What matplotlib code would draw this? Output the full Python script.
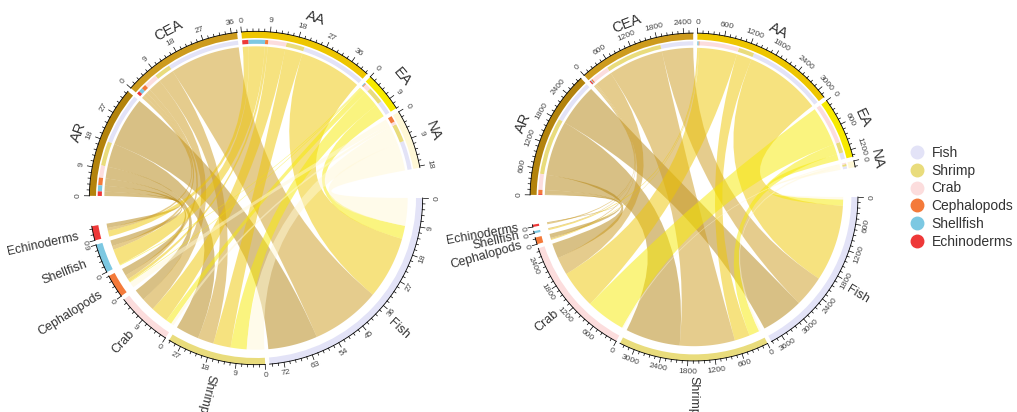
import numpy as np
import matplotlib.pyplot as plt
from matplotlib.path import Path
from matplotlib.patches import PathPatch, Wedge
from matplotlib.lines import Line2D

plt.rcParams['font.family'] = ['Liberation Sans', 'DejaVu Sans']

regions = ["AR", "CEA", "AA", "EA", "NA"]
species = ["Fish", "Shrimp", "Crab", "Cephalopods", "Shellfish", "Echinoderms"]

region_colors = ["#B3830C", "#CD9B1D", "#EEC600", "#F7EA00", "#FFF8D6"]
species_colors = ["#E3E3F7", "#E9DC7C", "#FCDDDD", "#F47A3A", "#7CC8E2", "#EE3838"]

# rows follow regions, columns follow species
left_flows = [
    [17.0, 8.0, 4.0, 2.5, 2.0, 1.5],
    [24.0, 5.5, 4.5, 1.5, 1.3, 1.0],
    [21.5, 6.0, 6.0, 1.0, 5.5, 2.0],
    [4.5, 5.5, 2.0, 0.3, 0.3, 0.0],
    [9.5, 6.0, 1.0, 2.0, 0.0, 0.0],
]
right_flows = [
    [1030, 1330, 370, 100, 0, 20],
    [760, 1340, 430, 30, 20, 30],
    [1860, 370, 920, 20, 30, 0],
    [150, 250, 960, 0, 0, 0],
    [60, 50, 30, 0, 0, 0],
]
left_step = 9
right_step = 600

BIG_GAP = 10.5
SMALL_GAP = 1.5
R_OUT, R_IN = 1.0, 0.96          # sector track
R_PROP_OUT, R_PROP_IN = 0.95, 0.925  # target proportion bars
R_LINK = 0.91
TXT = "#333333"


def arc(r, a, b, n=60):
    t = np.radians(-np.linspace(a, b, n))
    return np.column_stack([r * np.cos(t), r * np.sin(t)])


def ribbon(a1, a2, b1, b2):
    A = arc(R_LINK, a1, a2)
    B = arc(R_LINK, b1, b2)
    verts = list(A) + [(0, 0), B[0]] + list(B[1:]) + [(0, 0), A[0], A[0]]
    codes = ([Path.MOVETO] + [Path.LINETO] * (len(A) - 1) + [Path.CURVE3] * 2
             + [Path.LINETO] * (len(B) - 1) + [Path.CURVE3] * 2 + [Path.CLOSEPOLY])
    return Path(verts, codes)


def tangent_rot(cw):
    rot = (-cw - 90 + 180) % 360 - 180
    if rot < -90 or rot > 90:
        rot = (rot + 360) % 360 - 180
    return rot


def sector_axis(ax, start, length, k, step):
    pts = arc(R_OUT, start, start + length * k)
    ax.plot(pts[:, 0], pts[:, 1], color="black", lw=0.6)
    minor = step / 5
    for m in range(int(length / minor + 1e-6) + 1):
        v = m * minor
        cw = start + v * k
        t = np.radians(-cw)
        major = m % 5 == 0
        dl = 0.03 if major else 0.015
        ax.plot([R_OUT * np.cos(t), (R_OUT + dl) * np.cos(t)],
                [R_OUT * np.sin(t), (R_OUT + dl) * np.sin(t)],
                color="black", lw=0.5)
        if major:
            rl = 1.065
            ax.text(rl * np.cos(t), rl * np.sin(t), f"{int(round(v))}",
                    fontsize=6, color="#444444", ha="center", va="center",
                    rotation=tangent_rot(cw), rotation_mode="anchor")


def draw_chord(ax, flows, step):
    flows = np.array(flows, dtype=float)
    n_r, n_s = flows.shape
    total = flows.sum()
    k = (360 - 2 * BIG_GAP - (n_r + n_s - 2) * SMALL_GAP) / (2 * total)
    row_tot = flows.sum(axis=1)
    col_tot = flows.sum(axis=0)

    pos = 0.0
    sp_start = []
    for j in range(n_s):
        sp_start.append(pos)
        pos += col_tot[j] * k + SMALL_GAP
    pos += BIG_GAP - SMALL_GAP
    rg_start = []
    for i in range(n_r):
        rg_start.append(pos)
        pos += row_tot[i] * k + SMALL_GAP

    # link end positions on both sides
    rg_pos = {}
    for i in range(n_r):
        cur = rg_start[i]
        for j in reversed(range(n_s)):
            w = flows[i, j] * k
            rg_pos[i, j] = (cur, cur + w)
            cur += w
    sp_pos = {}
    for j in range(n_s):
        cur = sp_start[j]
        for i in reversed(range(n_r)):
            w = flows[i, j] * k
            sp_pos[i, j] = (cur, cur + w)
            cur += w

    for i in range(n_r):
        for j in range(n_s):
            if flows[i, j] <= 0:
                continue
            a1, a2 = rg_pos[i, j]
            b1, b2 = sp_pos[i, j]
            ax.add_patch(PathPatch(ribbon(a1, a2, b1, b2), fc=region_colors[i],
                                   ec="none", alpha=0.5, zorder=1))
            ax.add_patch(Wedge((0, 0), R_PROP_OUT, -a2, -a1,
                               width=R_PROP_OUT - R_PROP_IN,
                               fc=species_colors[j], ec="none", zorder=2))

    # region sectors
    for i in range(n_r):
        s, e = rg_start[i], rg_start[i] + row_tot[i] * k
        ax.add_patch(Wedge((0, 0), R_OUT, -e, -s, width=R_OUT - R_IN,
                           fc=region_colors[i], ec="none", zorder=2))
        sector_axis(ax, s, row_tot[i], k, step)
        mid = np.radians(-(s + e) / 2)
        ax.text(1.135 * np.cos(mid), 1.135 * np.sin(mid), regions[i],
                fontsize=10.5, color=TXT, ha="center", va="center",
                rotation=tangent_rot((s + e) / 2), rotation_mode="anchor")

    # species sectors
    for j in range(n_s):
        s, e = sp_start[j], sp_start[j] + col_tot[j] * k
        ax.add_patch(Wedge((0, 0), R_OUT, -e, -s, width=R_OUT - R_IN,
                           fc=species_colors[j], ec="none", zorder=2))
        sector_axis(ax, s, col_tot[j], k, step)
        th = -(s + e) / 2
        t = np.radians(th)
        if np.cos(t) >= -0.3:
            rot, ha = th, "left"
        else:
            rot, ha = th + 180, "right"
        ax.text(1.09 * np.cos(t), 1.09 * np.sin(t), species[j],
                fontsize=9, color=TXT, ha=ha, va="center",
                rotation=rot, rotation_mode="anchor")


W, H = 1017, 412
fig = plt.figure(figsize=(W / 100, H / 100), dpi=100)

S = 400
for (cx, cy, lim, flows, step) in [(256, 198, 1.2, left_flows, left_step),
                                    (694, 197, 1.22, right_flows, right_step)]:
    ax = fig.add_axes([(cx - S / 2) / W, (H - cy - S / 2) / H, S / W, S / H])
    ax.set_xlim(-lim, lim)
    ax.set_ylim(-lim, lim)
    ax.set_aspect("equal")
    ax.axis("off")
    draw_chord(ax, flows, step)

handles = [Line2D([], [], ls="", marker="o", ms=9, mfc=c, mec=c)
           for c in species_colors]
fig.legend(handles, species, loc="upper left",
           bbox_to_anchor=(910 / W, 1 - 146 / H), frameon=False, fontsize=10,
           handlelength=1.0, handletextpad=0.55, labelspacing=0.27,
           borderpad=0, borderaxespad=0, labelcolor=TXT)

fig.savefig("out.png", dpi=100)
